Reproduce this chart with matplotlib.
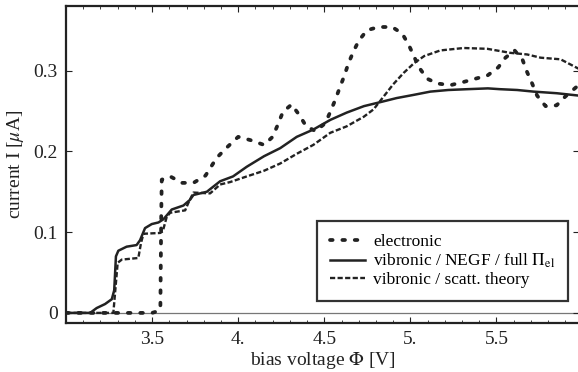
import matplotlib
matplotlib.use("Agg")
import matplotlib.pyplot as plt
from matplotlib.ticker import FixedLocator, MultipleLocator

# ---- data ----
V_el = [3.0, 3.50, 3.53, 3.548, 3.553, 3.556, 3.605, 3.674, 3.74, 3.81, 3.875, 3.94, 4.0, 4.07,
        4.15, 4.2, 4.23, 4.26, 4.31, 4.355, 4.395, 4.45, 4.506, 4.535, 4.564, 4.59, 4.617,
        4.64, 4.67, 4.70, 4.748, 4.815, 4.894, 4.952, 4.99, 5.02, 5.05, 5.097, 5.157, 5.233,
        5.31, 5.378, 5.448, 5.51, 5.552, 5.605, 5.652, 5.678, 5.707, 5.736, 5.785, 5.849,
        5.90, 5.96, 5.98]
I_el = [0, 0, 0.002, 0.005, 0.120, 0.165, 0.169, 0.161, 0.161, 0.170, 0.192, 0.206, 0.218, 0.214,
        0.208, 0.218, 0.233, 0.249, 0.258, 0.245, 0.231, 0.225, 0.235, 0.249, 0.264, 0.279, 0.294,
        0.309, 0.324, 0.337, 0.350, 0.354, 0.354, 0.346, 0.332, 0.318, 0.304, 0.290, 0.284, 0.282,
        0.286, 0.290, 0.294, 0.304, 0.316, 0.325, 0.313, 0.298, 0.284, 0.269, 0.256, 0.257,
        0.268, 0.279, 0.282]

V_negf = [3.0, 3.14, 3.178, 3.227, 3.266, 3.28, 3.29, 3.304, 3.352, 3.41, 3.43, 3.459, 3.498,
          3.537, 3.566, 3.614, 3.682, 3.72, 3.74, 3.818, 3.895, 3.97, 4.05, 4.15, 4.244, 4.34,
          4.436, 4.535, 4.63, 4.73, 4.826, 4.92, 5.02, 5.116, 5.22, 5.33, 5.45, 5.52, 5.62,
          5.715, 5.85, 5.98]
I_negf = [0, 0, 0.006, 0.011, 0.017, 0.028, 0.070, 0.077, 0.082, 0.084, 0.090, 0.105, 0.110,
          0.112, 0.116, 0.128, 0.133, 0.140, 0.146, 0.150, 0.163, 0.169, 0.181, 0.194, 0.204, 0.218,
          0.227, 0.239, 0.248, 0.256, 0.261, 0.266, 0.270, 0.274, 0.276, 0.277, 0.278, 0.277, 0.276,
          0.274, 0.272, 0.269]

V_scat = [3.0, 3.275, 3.285, 3.30, 3.324, 3.42, 3.436, 3.45, 3.547, 3.562, 3.585, 3.605, 3.692,
          3.71, 3.74, 3.837, 3.895, 3.953, 4.05, 4.15, 4.244, 4.34, 4.436, 4.535, 4.63, 4.73,
          4.786, 4.845, 4.90, 4.96, 5.02, 5.08, 5.174, 5.31, 5.446, 5.58, 5.678, 5.756, 5.872, 5.98]
I_scat = [0, 0, 0.025, 0.062, 0.066, 0.068, 0.087, 0.098, 0.099, 0.101, 0.119, 0.124, 0.127,
          0.136, 0.149, 0.148, 0.159, 0.162, 0.169, 0.176, 0.185, 0.197, 0.208, 0.223, 0.231, 0.243,
          0.252, 0.268, 0.283, 0.297, 0.309, 0.318, 0.325, 0.328, 0.327, 0.322, 0.320, 0.316, 0.314,
          0.302]

x_ticks = [3.5, 4.0, 4.5, 5.0, 5.5]
x_tick_labels = ["3.5", "4.", "4.5", "5.", "5.5"]
y_ticks = [0.0, 0.1, 0.2, 0.3]
y_tick_labels = ["0", "0.1", "0.2", "0.3"]

labels = ["electronic", r"vibronic / NEGF / full $\Pi_{\mathrm{el}}$", "vibronic / scatt. theory"]

# ---- style ----
plt.rcParams["font.family"] = ["Liberation Serif", "DejaVu Serif"]
plt.rcParams["mathtext.fontset"] = "stix"
ink = "#222222"

fig = plt.figure(figsize=(5.78, 3.72), dpi=100)
ax = fig.add_axes([66 / 578, 49 / 372, 1 - 66 / 578 + 0.002, 317 / 372])

ax.axhline(0, color="#777777", lw=0.9, zorder=1)

ax.plot(V_el, I_el, color=ink, lw=2.7, linestyle=(0, (0.7, 2.6)),
        dash_capstyle="round", label=labels[0], zorder=3)
ax.plot(V_negf, I_negf, color=ink, lw=1.8, linestyle="-", label=labels[1], zorder=2)
ax.plot(V_scat, I_scat, color=ink, lw=1.7, linestyle=(0, (2.2, 1.0)), label=labels[2], zorder=2)

ax.set_xlim(3.0, 5.98)
ax.set_ylim(-0.0125, 0.38)

ax.xaxis.set_major_locator(FixedLocator(x_ticks))
ax.set_xticklabels(x_tick_labels)
ax.yaxis.set_major_locator(FixedLocator(y_ticks))
ax.set_yticklabels(y_tick_labels)
ax.xaxis.set_minor_locator(MultipleLocator(0.1))

ax.tick_params(axis="both", which="major", direction="in", length=4, width=0.8,
               color=ink, labelsize=14, labelcolor=ink, top=True, right=True, pad=6)
ax.tick_params(axis="both", which="minor", direction="in", length=2, width=0.6,
               color=ink, top=True)

for side in ["left", "top", "bottom"]:
    ax.spines[side].set_linewidth(1.6)
    ax.spines[side].set_color(ink)
ax.spines["right"].set_visible(False)

ax.set_xlabel(r"bias voltage $\Phi$ [V]", fontsize=14, color=ink, labelpad=1)
ax.set_ylabel(r"current I [$\mu$A]", fontsize=14, color=ink, labelpad=5)

leg = ax.legend(loc="lower right", bbox_to_anchor=(0.979, 0.069), fontsize=12.5,
                frameon=True, fancybox=False, edgecolor="black", handlelength=2.0,
                handletextpad=0.5, borderpad=0.75, labelspacing=0.1, borderaxespad=0)
leg.get_frame().set_linewidth(1.6)

fig.savefig("out.png", dpi=100)
